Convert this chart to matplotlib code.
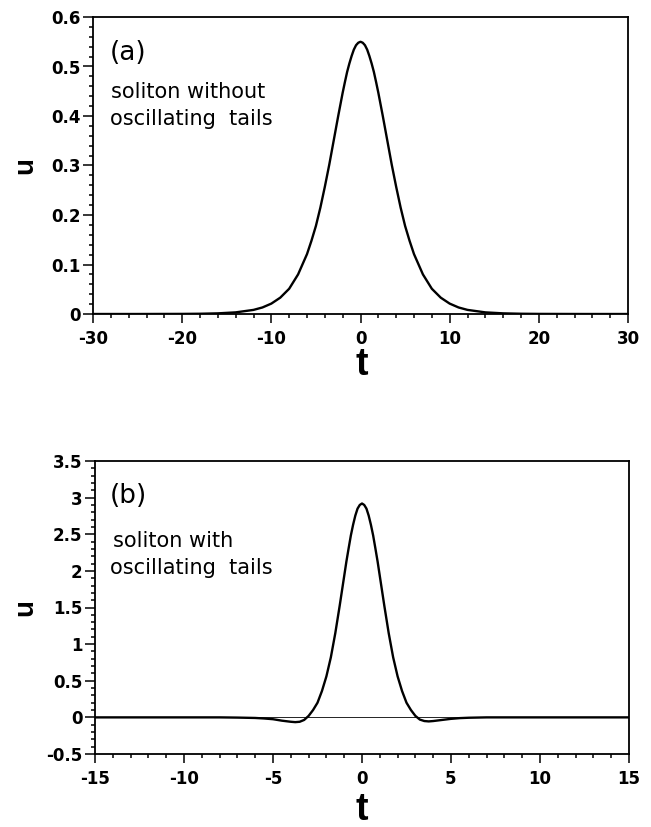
import numpy as np
import matplotlib.pyplot as plt
from matplotlib.ticker import MultipleLocator, FormatStrFormatter

# panel (a): soliton without oscillating tails
t_a = [-30, -25, -20, -18, -16, -14, -12, -11, -10, -9, -8, -7, -6, -5.5, -5,
       -4.5, -4, -3.5, -3, -2.5, -2, -1.75, -1.5, -1.25, -1, -0.75, -0.5,
       -0.25, 0,
       0.25, 0.5, 0.75, 1, 1.25, 1.5, 1.75, 2, 2.5, 3, 3.5, 4, 4.5, 5, 5.5, 6,
       7, 8, 9, 10, 11, 12, 14, 16, 18, 20, 25, 30]
u_a = [0.000, 0.000, 0.0002, 0.0005, 0.0013, 0.0033, 0.0083, 0.0132, 0.021,
       0.033, 0.051, 0.080, 0.121, 0.148, 0.178, 0.215, 0.257, 0.302, 0.351,
       0.400, 0.447, 0.4685, 0.489, 0.506, 0.521, 0.534, 0.543, 0.548, 0.550,
       0.548, 0.543, 0.534, 0.521, 0.506, 0.489, 0.4685, 0.447, 0.400, 0.351,
       0.302, 0.257, 0.215, 0.178, 0.148, 0.121, 0.080, 0.051, 0.033, 0.021,
       0.0132, 0.0083, 0.0033, 0.0013, 0.0005, 0.0002, 0.000, 0.000]

# panel (b): soliton with oscillating tails
t_b = [-15, -12, -10, -8, -7, -6, -5.5, -5, -4.5, -4, -3.75, -3.5, -3.25, -3,
       -2.75, -2.5, -2.25, -2, -1.75, -1.5, -1.25, -1, -0.875, -0.75, -0.625,
       -0.5, -0.375, -0.25, -0.125, 0,
       0.125, 0.25, 0.375, 0.5, 0.625, 0.75, 0.875, 1, 1.25, 1.5, 1.75, 2,
       2.25, 2.5, 2.75, 3, 3.25, 3.5, 3.75, 4, 4.5, 5, 5.5, 6, 7, 8, 10, 12, 15]
u_b = [0.0, 0.0, 0.0, 0.0, -0.003, -0.008, -0.015, -0.025, -0.045, -0.06,
       -0.065, -0.06, -0.035, 0.02, 0.10, 0.20, 0.36, 0.56, 0.82, 1.15, 1.53,
       1.93, 2.13, 2.31, 2.485, 2.63, 2.755, 2.85, 2.90, 2.92,
       2.90, 2.85, 2.755, 2.63, 2.485, 2.31, 2.13, 1.93, 1.53, 1.15, 0.82,
       0.56, 0.36, 0.20, 0.10, 0.02, -0.03, -0.05, -0.055, -0.05, -0.035,
       -0.02, -0.01, -0.005, 0.0, 0.0, 0.0, 0.0, 0.0]

plt.rcParams['font.family'] = ['DejaVu Sans']
plt.rcParams['axes.unicode_minus'] = False

W, H = 651, 827
fig = plt.figure(figsize=(W / 100, H / 100), dpi=100)
ax1 = fig.add_axes([93 / W, 1 - 314 / H, 535 / W, 297 / H])
ax2 = fig.add_axes([95 / W, 1 - 754 / H, 534 / W, 293 / H])


def style(ax, xmaj, xmin, ymaj, ymin):
    for s in ax.spines.values():
        s.set_linewidth(1.3)
    ax.xaxis.set_major_locator(MultipleLocator(xmaj))
    ax.xaxis.set_minor_locator(MultipleLocator(xmin))
    ax.yaxis.set_major_locator(MultipleLocator(ymaj))
    ax.yaxis.set_minor_locator(MultipleLocator(ymin))
    ax.xaxis.set_major_formatter(FormatStrFormatter('%g'))
    ax.yaxis.set_major_formatter(FormatStrFormatter('%g'))
    ax.tick_params(which='both', direction='out', top=False, right=False,
                   width=1.1, labelsize=12)
    ax.tick_params(axis='x', which='major', length=6.5, pad=5)
    ax.tick_params(axis='y', which='major', length=7, pad=2)
    ax.tick_params(which='minor', length=3.2)
    for lab in ax.get_xticklabels() + ax.get_yticklabels():
        lab.set_fontweight('bold')


ax1.plot(t_a, u_a, color='black', lw=1.7)
ax1.set_xlim(-30, 30)
ax1.set_ylim(0, 0.6)
style(ax1, 10, 2, 0.1, 0.02)
ax1.text(-28.1, 0.513, '(a)', fontsize=19, va='baseline')
ax1.text(-28.0, 0.436, 'soliton without', fontsize=15, va='baseline')
ax1.text(-28.1, 0.382, 'oscillating  tails', fontsize=15, va='baseline')

ax2.axhline(0, color='black', lw=0.6)
ax2.plot(t_b, u_b, color='black', lw=1.7)
ax2.set_xlim(-15, 15)
ax2.set_ylim(-0.5, 3.5)
style(ax2, 5, 1, 0.5, 0.1)
ax2.text(-14.16, 2.92, '(b)', fontsize=19, va='baseline')
ax2.text(-14.0, 2.32, 'soliton with', fontsize=15, va='baseline')
ax2.text(-14.16, 1.96, 'oscillating  tails', fontsize=15, va='baseline')

lab_font = dict(family='Liberation Sans', weight='bold')
fig.text(362 / W, 1 - 375 / H, 't', fontsize=27, ha='center',
         va='baseline', **lab_font)
fig.text(362 / W, 1 - 820 / H, 't', fontsize=27, ha='center',
         va='baseline', **lab_font)
fig.text(25 / W, 1 - 165 / H, 'u', fontsize=20, rotation=90,
         ha='center', va='center', **lab_font)
fig.text(25 / W, 1 - 607 / H, 'u', fontsize=20, rotation=90,
         ha='center', va='center', **lab_font)

fig.savefig('out.png', dpi=100)
